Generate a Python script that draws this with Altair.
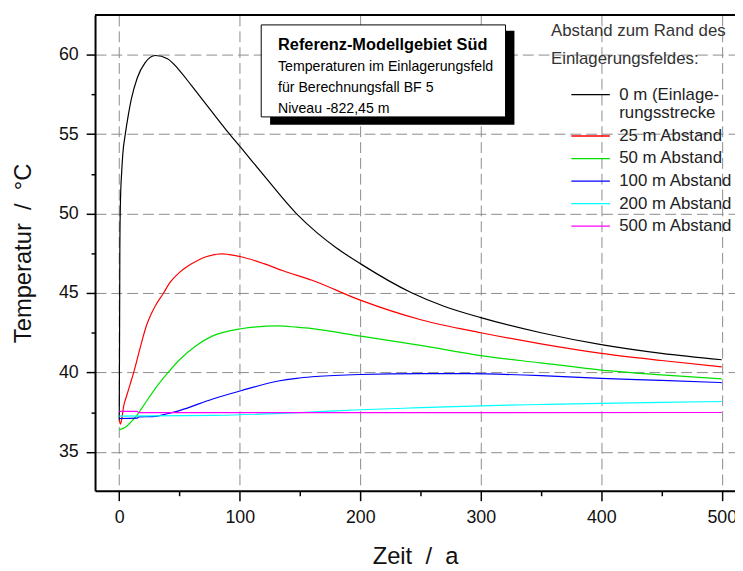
import altair as alt
import pandas as pd

# ---------------- data ----------------
series_names = ["0 m (Einlage-rungsstrecke", "25 m Abstand", "50 m Abstand",
                "100 m Abstand", "200 m Abstand", "500 m Abstand"]
series_colors = ["#000000", "#ff0000", "#00e000", "#0000ff", "#00ffff", "#ff00ff"]

t_0m = [0, 0.5, 1, 2, 3, 5, 7.5, 10, 15, 21.5, 30, 40, 49, 60, 76, 90, 101, 120, 147,
        164, 180, 200, 243, 270, 300, 350, 400, 450, 500]
T_0m = [37.0, 48.0, 50.8, 52.6, 53.8, 55.0, 56.2, 57.2, 58.55, 59.5, 59.95, 59.75, 59.1,
        58.05, 56.5, 55.15, 54.15, 52.4, 50.0, 48.8, 47.85, 46.85, 45.0, 44.15, 43.45,
        42.5, 41.75, 41.2, 40.8]

t_25m = [0, 1, 2, 3.7, 6, 9, 12, 17, 22.8, 26, 30, 36.5, 42, 50, 57, 65, 72, 85, 101,
         120, 136, 160, 200, 251, 300, 350, 400, 450, 500]
T_25m = [37.0, 36.75, 37.05, 37.9, 38.5, 39.25, 40.0, 41.45, 43.0, 43.6, 44.2, 44.97,
         45.65, 46.3, 46.7, 47.05, 47.28, 47.46, 47.28, 46.85, 46.4, 45.8, 44.55, 43.3, 42.5,
         41.8, 41.2, 40.75, 40.35]

t_50m = [0, 1, 5, 10, 14.6, 20, 30, 40.6, 50, 64, 77.6, 101, 132, 147, 160, 199, 250,
         300, 350, 400, 450, 500]
T_50m = [36.4, 36.42, 36.55, 36.9, 37.3, 37.9, 39.0, 40.0, 40.8, 41.7, 42.3, 42.75,
         42.93, 42.85, 42.76, 42.3, 41.7, 41.06, 40.6, 40.15, 39.85, 39.6]

t_100m = [0, 15, 16, 28, 40, 50, 77.6, 101, 132, 147, 160, 200, 250, 290, 350, 400, 450, 500]
T_100m = [37.1, 37.12, 37.2, 37.22, 37.4, 37.6, 38.33, 38.85, 39.46, 39.63, 39.73, 39.87,
          39.93, 39.92, 39.8, 39.63, 39.5, 39.36]

t_200m = [0, 80, 150, 200, 250, 300, 350, 400, 450, 500]
T_200m = [37.25, 37.3, 37.47, 37.65, 37.78, 37.9, 37.98, 38.05, 38.12, 38.17]

t_500m = [0, 15, 16, 300, 500]
T_500m = [37.55, 37.55, 37.47, 37.47, 37.48]

x_ticks = [0, 50, 100, 150, 200, 250, 300, 350, 400, 450, 500]
y_ticks = [35, 37.5, 40, 42.5, 45, 47.5, 50, 52.5, 55, 57.5, 60]

box_title = "Referenz-Modellgebiet Süd"
box_lines = ["Temperaturen im Einlagerungsfeld", "für Berechnungsfall BF 5", "Niveau -822,45 m"]
legend_title = ["Abstand zum Rand des", "Einlagerungsfeldes:"]
x_title = "Zeit\u00a0 /\u00a0 a"
y_title = "Temperatur\u00a0 /\u00a0 °C"

all_t = [t_0m, t_25m, t_50m, t_100m, t_200m, t_500m]
all_T = [T_0m, T_25m, T_50m, T_100m, T_200m, T_500m]
rows = []
for name, ts, Ts in zip(series_names, all_t, all_T):
    for order, (a, b) in enumerate(zip(ts, Ts)):
        rows.append({"Abstand": name, "t": a, "T": b, "o": order})
df = pd.DataFrame(rows)

FONT = "Liberation Sans"
W, H = 647, 481

label_expr = ("datum.value == '0 m (Einlage-rungsstrecke' ? "
              "['\u00a00 m (Einlage-', 'rungsstrecke'] : "
              "(length(datum.label) < 13 ? '\u00a0' + datum.label : datum.label)")

lines = alt.Chart(df).mark_line(strokeWidth=1.2, interpolate="monotone", clip=True).encode(
    x=alt.X("t:Q", scale=alt.Scale(domain=[-20.1, 511], nice=False, zero=False),
            axis=alt.Axis(values=x_ticks,
                          labelExpr="datum.value % 100 === 0 ? datum.label : ''",
                          tickSize={"condition": {"test": "datum.value % 100 === 0", "value": 10}, "value": 5},
                          gridOpacity={"condition": {"test": "datum.value % 100 === 0", "value": 1}, "value": 0},
                          title=x_title, titleY=74, titleBaseline="alphabetic",
                          labelPadding=8)),
    y=alt.Y("T:Q", scale=alt.Scale(domain=[32.55, 62.5], nice=False, zero=False),
            axis=alt.Axis(values=y_ticks,
                          labelExpr="datum.value % 5 === 0 ? datum.label : ''",
                          tickSize={"condition": {"test": "datum.value % 5 === 0", "value": 9}, "value": 4},
                          gridOpacity={"condition": {"test": "datum.value % 5 === 0", "value": 1}, "value": 0},
                          title=y_title, titleX=-65, titleBaseline="alphabetic",
                          labelPadding=8)),
    color=alt.Color("Abstand:N",
                    scale=alt.Scale(domain=series_names, range=series_colors),
                    legend=alt.Legend(title=legend_title, orient="none", legendX=461, legendY=8,
                                      symbolType="M-4,0H4", symbolSize=95, symbolStrokeWidth=1.3,
                                      symbolOffset=31.5, labelOffset=20.5, labelFontSize=17,
                                      labelFont=FONT, labelColor="#222", labelLimit=300,
                                      titleFont=FONT, titleFontSize=17, titleFontWeight="normal",
                                      titleColor="#333", titleLineHeight=29, titlePadding=18,
                                      rowPadding=4.8, padding=0, labelExpr=label_expr)),
    order="o:Q",
)

one = pd.DataFrame({"k": [0]})
top_border = alt.Chart(one).mark_rule(color="black", strokeWidth=2).encode(
    x=alt.value(0), x2=alt.value(W), y=alt.value(0))
shadow = alt.Chart(one).mark_rect(color="black").encode(
    x=alt.value(177), x2=alt.value(424), y=alt.value(16), y2=alt.value(111))
box = alt.Chart(one).mark_rect(fill="white", stroke="black", strokeWidth=1).encode(
    x=alt.value(168), x2=alt.value(415), y=alt.value(10), y2=alt.value(103))
box_t = alt.Chart(one).mark_text(text=box_title, font=FONT, fontWeight="bold", fontSize=16.5,
                                 align="left", baseline="alphabetic", color="black").encode(
    x=alt.value(185), y=alt.value(35))
box_l = alt.Chart(one).mark_text(text=box_lines, font=FONT, fontSize=14.3, lineHeight=21,
                                 align="left", baseline="alphabetic", color="black").encode(
    x=alt.value(185), y=alt.value(57))

chart = alt.layer(lines, top_border, shadow, box, box_t, box_l).properties(
    width=W, height=H,
    padding={"left": 88, "top": 4, "right": 0, "bottom": 78},
    autosize=alt.AutoSizeParams(type="none"),
).configure_view(stroke=None).configure_axis(
    labelFont=FONT, labelFontSize=18, labelColor="#111",
    titleFont=FONT, titleFontSize=24, titleFontWeight="normal", titleColor="#111",
    domainColor="black", domainWidth=2, tickColor="black", tickWidth=1.5,
    gridColor="#8c8c8c", gridDash=[11, 5], gridWidth=1,
)

chart.save("out.html", embed_options={"renderer": "svg", "actions": False})
